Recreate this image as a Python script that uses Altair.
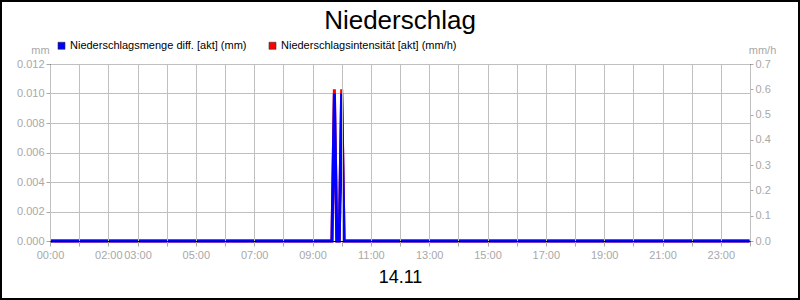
import altair as alt
import pandas as pd

# ---- data ----
times = ["00:00", "09:40", "09:45", "09:50", "09:55", "10:00", "10:05", "23:59"]
menge_mm = [0.0, 0.0, 0.01, 0.0, 0.0, 0.01, 0.0, 0.0]
intens_mmh = [0.0, 0.0, 0.6, 0.0, 0.0, 0.6, 0.0, 0.0]

name_menge = "Niederschlagsmenge diff. [akt] (mm)"
name_int = "Niederschlagsintensität [akt] (mm/h)"
series_names = [name_menge, name_int]
series_colors = ["#0000ff", "#ff0000"]

left_ticks = [0.0, 0.002, 0.004, 0.006, 0.008, 0.010, 0.012]
right_ticks = [0.0, 0.1, 0.2, 0.3, 0.4, 0.5, 0.6, 0.7]
hour_ticks = list(range(0, 25))
shown_hours = [0, 2, 3, 5, 7, 9, 11, 13, 15, 17, 19, 21, 23]

def to_hours(t):
    h, m = t.split(":")
    return int(h) + int(m) / 60.0

df_m = pd.DataFrame({"h": [to_hours(t) for t in times], "v": menge_mm, "series": name_menge})
df_i = pd.DataFrame({"h": [to_hours(t) for t in times], "v": intens_mmh, "series": name_int})
df_leg = pd.DataFrame({"series": series_names})

FONT = "Liberation Sans"
GRAY = "#a8a8a8"

label_expr = (
    "indexof(" + str(shown_hours) + ", datum.value) >= 0 ? "
    "(datum.value < 10 ? '0' : '') + datum.value + ':00' : ''"
)

x_enc = alt.X(
    "h:Q",
    scale=alt.Scale(domain=[0, 24], nice=False, zero=False),
    axis=alt.Axis(
        values=hour_ticks,
        labelExpr=label_expr,
        labelOverlap=False,
        labelFlush=False,
        grid=True,
        gridColor="#c0c0c0",
        domainColor="black",
        tickColor=GRAY,
        tickSize=5,
        labelPadding=3,
        labelColor=GRAY,
        labelFont=FONT,
        labelFontSize=11,
        title="14.11",
        titleFont=FONT,
        titleFontSize=18,
        titleFontWeight="normal",
        titleColor="black",
        titleX=350,
        titleY=41,
        titleAlign="center",
        titleBaseline="alphabetic",
        zindex=1,
    ),
)

color_scale = alt.Scale(domain=series_names, range=series_colors)

red = alt.Chart(df_i).mark_line(strokeWidth=3, interpolate="linear").encode(
    x=x_enc,
    y=alt.Y(
        "v:Q",
        scale=alt.Scale(domain=[0, 0.7], nice=False),
        axis=alt.Axis(
            orient="right",
            values=right_ticks,
            format=".1f",
            grid=False,
            domainColor="black",
            tickColor=GRAY,
            tickSize=3,
            labelPadding=2,
            labelColor=GRAY,
            labelFont=FONT,
            labelFontSize=11,
            title="mm/h",
            titleAngle=0,
            titleFont=FONT,
            titleFontSize=11,
            titleFontWeight="normal",
            titleColor=GRAY,
            titleX=12,
            titleY=-11,
            titleAlign="center",
            titleBaseline="alphabetic",
        ),
    ),
    color=alt.Color("series:N", scale=color_scale, legend=None),
)

blue = alt.Chart(df_m).mark_line(strokeWidth=3, interpolate="linear").encode(
    x=x_enc,
    y=alt.Y(
        "v:Q",
        scale=alt.Scale(domain=[0, 0.012], nice=False),
        axis=alt.Axis(
            orient="left",
            values=left_ticks,
            format=".3f",
            grid=True,
            gridColor="#c0c0c0",
            domainColor="black",
            tickColor=GRAY,
            tickSize=4,
            labelPadding=2,
            labelColor=GRAY,
            labelFont=FONT,
            labelFontSize=11,
            title="mm",
            titleAngle=0,
            titleFont=FONT,
            titleFontSize=11,
            titleFontWeight="normal",
            titleColor=GRAY,
            titleX=-10,
            titleY=-11,
            titleAlign="center",
            titleBaseline="alphabetic",
        ),
    ),
    color=alt.Color("series:N", scale=color_scale, legend=None),
)

legend_layer = alt.Chart(df_leg).mark_square(filled=True, size=0).encode(
    x=alt.value(0),
    y=alt.value(0),
    color=alt.Color(
        "series:N",
        scale=color_scale,
        legend=alt.Legend(
            orient="none",
            legendX=6,
            legendY=-24,
            direction="horizontal",
            title=None,
            symbolType="square",
            symbolSize=49,
            symbolStrokeColor="#303030",
            symbolStrokeWidth=0.6,
            symbolOpacity=1,
            labelFont=FONT,
            labelFontSize=11,
            labelColor="black",
            labelOffset=3,
            columnPadding=20,
            padding=0,
            labelLimit=400,
        ),
    ),
)

frame = alt.Chart(pd.DataFrame({"a": [0]})).mark_rect(
    fill=None, stroke="black", strokeWidth=2
).encode(
    x=alt.value(-49), x2=alt.value(749), y=alt.value(-63), y2=alt.value(235)
)

chart = (
    alt.layer(red, blue, legend_layer, frame)
    .resolve_scale(y="independent")
    .resolve_legend(color="independent")
    .properties(
        width=700,
        height=177,
        padding={"left": 50, "top": 64, "right": 50, "bottom": 59},
        autosize=alt.AutoSizeParams(type="none"),
        title=alt.TitleParams(
            "Niederschlag",
            font=FONT,
            fontSize=26,
            fontWeight="normal",
            color="black",
            anchor="middle",
            frame="group",
            offset=-34,
        ),
    )
    .configure_view(stroke="black", strokeWidth=1)
    .configure(background="white")
)

chart.save("out.html", embed_options={"renderer": "svg", "actions": False})
